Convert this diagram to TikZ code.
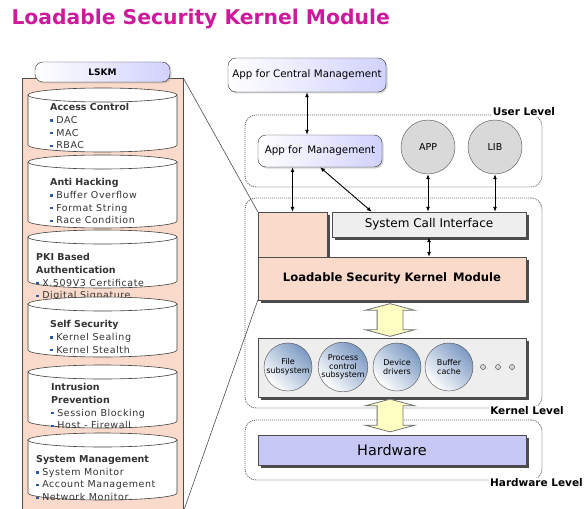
\documentclass[tikz,border=0pt]{standalone}
\usepackage{fontspec}
\setmainfont{DejaVu Sans}
\newfontfamily\spaced[LetterSpace=6]{DejaVu Sans}
\usetikzlibrary{arrows.meta,shapes.arrows,shadows,positioning}
\usepackage{xcolor}

\definecolor{titlemag}{RGB}{205,25,155}
\definecolor{lskmpink}{RGB}{250,218,202}
\definecolor{hwblue}{RGB}{200,200,245}
\definecolor{scigray}{RGB}{238,238,238}
\definecolor{bulletblue}{RGB}{40,90,170}
\definecolor{discblue}{RGB}{80,120,175}
\definecolor{flowyellow}{RGB}{255,255,195}

% small blue square bullet
\newcommand{\itm}{\textcolor{bulletblue}{\rule[0.3ex]{2.6pt}{2.6pt}}\hspace{3.5pt}\spaced}

% one security drum: y of top ellipse, y of bottom ellipse
\newcommand{\secdrum}[2]{%
  \filldraw[drum] (28,#1) -- (28,#2) arc[start angle=180,end angle=360,x radius=74.5pt,y radius=7pt] -- (177,#1) -- cycle;
  \filldraw[drum] (102.5,#1) ellipse[x radius=74.5pt,y radius=7pt];
}

\begin{document}
\begin{tikzpicture}[x=1pt,y=-1pt,
      drum/.style={draw=black!75, fill=white, line width=0.6pt},
      drumtext/.style={anchor=north west, align=left, inner sep=0pt, text=black!80,
        font=\fontsize{9.5}{12.8}\selectfont},
      rbox/.style={draw=black!80, rounded corners=8pt, align=center, font=\fontsize{10.3}{11}\selectfont,
        left color=white, middle color=white, right color=blue!18, drop shadow={shadow xshift=1.5pt, shadow yshift=-1.5pt, fill=gray!70}},
      ball/.style={circle, draw=black!70, fill=gray!30, minimum size=54pt, inner sep=0pt, font=\fontsize{9.5}{10}\selectfont},
      layer/.style={draw=black!70, minimum height=25pt, align=center,
        drop shadow={shadow xshift=2.5pt, shadow yshift=-2.5pt, fill=gray!60!black, opacity=1}},
      level/.style={draw=black!60, dash pattern=on 1pt off 1pt, line width=0.9pt, rounded corners=11pt},
      lvltext/.style={fill=white, inner sep=1pt, font=\bfseries\fontsize{10.5}{11}\selectfont},
      disc/.style={circle, draw=black!70, minimum size=48pt, inner sep=0pt, align=center,
        left color=white, right color=discblue!75, shading angle=135, font=\fontsize{8}{8.5}\selectfont},
      dot/.style={circle, draw=black!80, fill=gray!30, minimum size=5pt, inner sep=0pt},
      flow/.style={double arrow, rotate=90, draw=black!55, line width=0.8pt, fill=flowyellow, minimum height=30pt,
        inner sep=12.5pt, double arrow head extend=11.5pt, double arrow tip angle=150},
      link/.style={{Latex[length=5pt,width=4pt]}-{Latex[length=5pt,width=4pt]}, line width=0.9pt},
      zoomline/.style={draw=black!70, line width=0.6pt}
    ]
    \useasboundingbox (0,0) rectangle (585,508);

    % title
    \node[text=titlemag, font=\bfseries\fontsize{20.3}{21}\selectfont, anchor=west] (title) at (8,19)
      {Loadable Security Kernel Module};

    % ---- LSKM stack on the left
    \node[draw=black!70, fill=lskmpink, minimum width=161pt, minimum height=434pt] (lskm) at (102.5,295) {};
    \node[rbox, minimum width=135pt, minimum height=20pt, font=\bfseries\fontsize{9}{10}\selectfont] (lskmhead) at (102.5,72) {LSKM};

    \secdrum{95}{145}
    \node[drumtext] (ac) at (50,103) {\textbf{Access Control}\\\itm DAC\\\itm MAC\\\itm RBAC};
    \secdrum{162}{221}
    \node[drumtext] (ah) at (50,178) {\textbf{Anti Hacking}\\\itm Buffer Overflow\\\itm Format String\\\itm Race Condition};
    \secdrum{237}{281}
    \node[drumtext] (pki) at (36,253) {\textbf{PKI Based}\\\textbf{Authentication}\\\itm X.509V3 Certificate\\\itm Digital Signature};
    \secdrum{304}{350}
    \node[drumtext] (ss) at (50,320) {\textbf{Self Security}\\\itm Kernel Sealing\\\itm Kernel Stealth};
    \secdrum{372}{421}
    \node[drumtext] (ip) at (51,383) {\textbf{Intrusion}\\\textbf{Prevention}\\\itm Session Blocking\\\itm Host - Firewall};
    \secdrum{440}{493}
    \node[drumtext] (sm) at (36,455) {\textbf{System Management}\\\itm System Monitor\\\itm Account Management\\\itm Network Monitor};

    % ---- levels on the right
    \node[level, minimum width=297pt, minimum height=72pt] (user) at (393.5,151) {};
    \node[level, minimum width=297pt, minimum height=210pt] (kernel) at (393.5,303) {};
    \node[level, minimum width=297pt, minimum height=60pt] (hwlevel) at (393.5,450) {};
    \node[lvltext] (userlbl) at (524,112) {User Level};
    \node[lvltext] (kernellbl) at (527,411) {Kernel Level};
    \node[lvltext, anchor=east] (hwlbl) at (584,483) {Hardware Level};

    \node[rbox, minimum width=158pt, minimum height=34pt] (central) at (307,75) {App for Central Management};
    \node[rbox, minimum width=124pt, minimum height=32pt] (mgmt) at (320,151) {App for \,Management};
    \node[ball] (app) at (428,147) {APP};
    \node[ball] (lib) at (495,147) {LIB};

    \node[layer, fill=lskmpink, minimum width=69pt, minimum height=45pt] (hook) at (292.5,234.5) {};
    \node[layer, fill=scigray, minimum width=194pt, font=\fontsize{12}{13}\selectfont] (sci) at (429,224.5) {System Call Interface};
    \node[layer, fill=lskmpink, minimum width=268pt, minimum height=43pt, font=\bfseries\fontsize{11.6}{12}\selectfont] (module) at (392,278.5)
      {Loadable Security Kernel \,Module};

    \node[flow] (flowA) at (390,320) {};
    \node[layer, fill=scigray, minimum width=268pt, minimum height=59pt] (subsys) at (392,367.5) {};
    \node[disc] (filesub) at (288,367) {File\\subsystem};
    \node[disc] (procsub) at (343,367) {Process\\control\\subsystem};
    \node[disc] (devsub) at (397,367) {Device\\drivers};
    \node[disc] (bufsub) at (449,367) {Buffer\\cache};
    \node[dot] (dotA) at (483,367) {};
    \node[dot] (dotB) at (498,367) {};
    \node[dot] (dotC) at (512,367) {};

    \node[flow] (flowB) at (390,415.5) {};
    \node[layer, fill=hwblue, minimum width=268pt, minimum height=30pt, font=\fontsize{14.4}{15}\selectfont] (hw) at (392,450) {Hardware};

    % zoom lines from the stack to the module
    \draw[zoomline] (lskm.north east) -- (hook.north west);
    \draw[zoomline] (lskm.south east) -- (module.south west);

    % calls
    \draw[link] (central.south) -- (central.south |- mgmt.north);
    \draw[link] (mgmt.south -| hook.north) -- (hook.north);
    \draw[link] (mgmt.south) -- ([xshift=40pt]sci.north west);
    \draw[link] (app.south) -- (app.south |- sci.north);
    \draw[link] (lib.south) -- (lib.south |- sci.north);
    \draw[link] (sci.south) -- (sci.south |- module.north);
  \end{tikzpicture}
\end{document}
